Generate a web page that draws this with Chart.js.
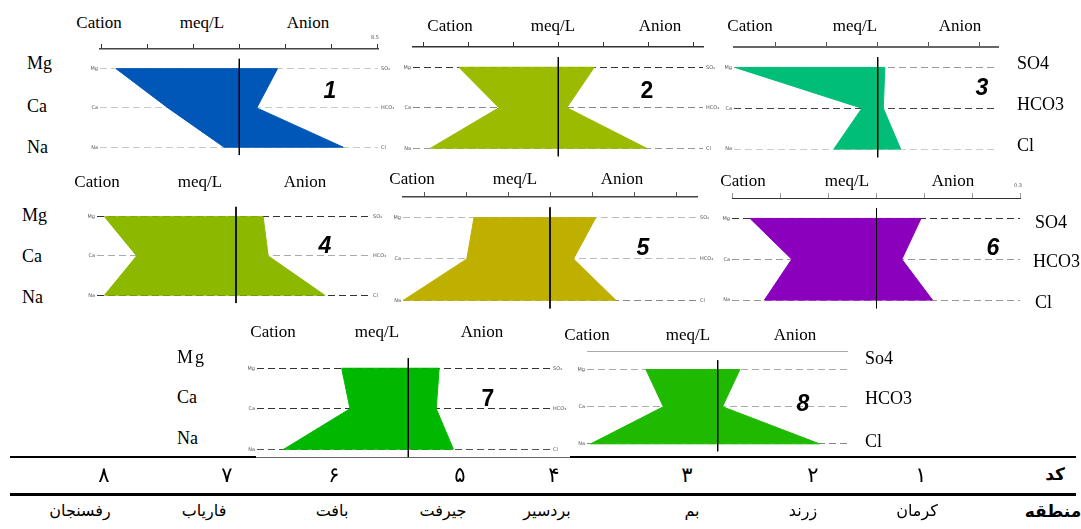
<!DOCTYPE html>
<html><head><meta charset="utf-8">
<script src="https://cdn.jsdelivr.net/npm/chart.js@4.4.1/dist/chart.umd.min.js"></script>
<style>
html,body{margin:0;padding:0;background:#fff;}
#wrap{position:relative;width:1081px;height:529px;overflow:hidden;background:#fff;}
canvas{position:absolute;}
.t{position:absolute;white-space:nowrap;transform:translate(-50%,-50%);line-height:1;color:#000;}
.tl{position:absolute;white-space:nowrap;transform:translate(0,-50%);line-height:1;color:#000;}
.serif{font-family:"Liberation Serif","Times New Roman",serif;font-size:17px;}
.side{font-family:"Liberation Serif","Times New Roman",serif;font-size:18px;}
.num{font-family:"Liberation Sans",Arial,sans-serif;font-weight:bold;font-size:23px;}
.tiny{font-family:"DejaVu Sans",sans-serif;font-size:5px;color:#555;}
.fa{font-family:"DejaVu Sans",sans-serif;font-size:15px;}
.hr{position:absolute;background:#000;}
</style></head><body><div id="wrap"></div>
<script>
// ---- data (tick units) ----
const panelIds = [1, 2, 3, 4, 5, 6, 7, 8];
const cations = ['Mg', 'Ca', 'Na'];
const anions = ['SO₄', 'HCO₃', 'Cl'];
const mg   = [2.68, 2.21, 2.80, 2.86, 1.81, 2.64, 1.36, 1.65];
const ca   = [1.55, 1.32, 0.31, 2.16, 1.98, 1.77, 1.19, 1.25];
const na   = [0.33, 2.84, 0.86, 2.86, 3.49, 2.34, 2.54, 2.92];
const so4  = [0.83, 0.80, 0.14, 0.59, 1.09, 0.93, 0.63, 0.51];
const hco3 = [0.38, 0.19, 0.11, 0.70, 0.56, 0.53, 0.57, 0.11];
const cl   = [2.26, 1.96, 0.45, 1.93, 1.57, 1.17, 0.92, 2.34];
const axisTicks = [[-3,-2,-1,0,1,2,3],[-3,-2,-1,0,1,2,3],[-2,-1,0,1,2],[],[-3,-2,-1,0,1,2,3],[-3,-2,-1,0,1,2,3],[],[]];
const codes = ['۱','۲','۳','۴','۵','۶','۷','۸'];
const regions = ['کرمان','زرند','بم','بردسیر','جیرفت','بافت','فاریاب','رفسنجان'];

// ---- layout / styles ----
const layout = [
 {left:100,right:378,center:239.3,unit:46,top:49,gap:40,axis:'ticks',tickColor:'#333',axisColor:'#444',axisWidth:1.5,color:'#0057B7',dash:['#c8c8c8','#c8c8c8','#c8c8c8'],over:false,rightTiny:true,title:[99,202,308,22],num:[330,90],italic:true},
 {left:413,right:703,center:558.3,unit:45,top:47,gap:41.2,axis:'ticks',tickColor:'#333',axisColor:'#333',axisWidth:1.5,color:'#9BBB00',dash:['#333','#888','#999'],over:true,rightTiny:true,title:[450,553,660,25],num:[647,90],italic:false},
 {left:734,right:998,center:877.7,unit:51,top:47,gap:41.2,axis:'ticks',tickColor:'#555',axisColor:'#666',axisWidth:2,color:'#00BE78',dash:['#999','#444','#ccc'],over:false,rightTiny:false,title:[750,855,960,25],num:[982,87],italic:true},
 {left:97,right:370,center:236,unit:46,top:197,gap:40,axis:'none',tickColor:'#333',axisColor:'#333',axisWidth:1,color:'#8CB800',dash:['#333','#aaa','#333'],over:false,rightTiny:true,title:[97,200,305,181],num:[325,245],italic:true},
 {left:403,right:697,center:550,unit:42,top:197,gap:42,axis:'ticks',tickColor:'#555',axisColor:'#444',axisWidth:1.5,color:'#BFB000',dash:['#bbb','#bbb','#888'],over:false,rightTiny:true,title:[412,515,622,178],num:[643,247],italic:true},
 {left:732,right:1020,center:876.5,unit:47.9,top:198,gap:41.2,axis:'ticks',tickColor:'#999',axisColor:'#333',axisWidth:1,color:'#8B00BC',dash:['#333','#999','#999'],over:true,rightTiny:false,title:[743,847,953,180],num:[993,247],italic:true},
 {left:257,right:550,center:408.3,unit:49,top:348,gap:41.2,axis:'none',tickColor:'#333',axisColor:'#333',axisWidth:1,color:'#00B800',dash:['#333','#333','#555'],over:true,rightTiny:true,title:[273,377,482,331],num:[488,398],italic:false},
 {left:587,right:847,center:717.7,unit:43.5,top:351,gap:37.5,axis:'plain',tickColor:'#aaa',axisColor:'#aaa',axisWidth:1,color:'#1FBA00',dash:['#aaa','#aaa','#888'],over:true,rightTiny:false,title:[587,688,795,334],num:[803,403],italic:true}
];

const wrap = document.getElementById('wrap');
function text(cls, x, y, s, extra) {
  const d = document.createElement('div');
  d.className = cls; d.style.left = x + 'px'; d.style.top = y + 'px';
  d.textContent = s;
  if (extra) Object.assign(d.style, extra);
  wrap.appendChild(d);
  return d;
}

function makePanel(i) {
  const L = layout[i];
  const sideW = 20, padL = 4, padR = 4, padT = 8, padB = 4;
  const areaH = Math.round(L.gap * 2.8);
  const cv = document.createElement('canvas');
  cv.width = L.right - L.left + padL + padR + 2 * sideW;
  cv.height = areaH + padT + padB;
  cv.style.left = (L.left - padL - sideW) + 'px';
  cv.style.top = (L.top - padT) + 'px';
  cv.style.width = cv.width + 'px';
  cv.style.height = cv.height + 'px';
  wrap.appendChild(cv);
  const xmin = (L.left - L.center) / L.unit;
  const xmax = (L.right - L.center) / L.unit;
  const ymax = -0.5 + areaH / L.gap;
  const poly = [
    {x: -mg[i], y: 0}, {x: -ca[i], y: 1}, {x: -na[i], y: 2},
    {x: cl[i], y: 2}, {x: hco3[i], y: 1}, {x: so4[i], y: 0}, {x: -mg[i], y: 0}
  ];
  const rowTicks = ax => { ax.ticks = [0, 1, 2].map(v => ({value: v})); };
  new Chart(cv, {
    type: 'scatter',
    data: {datasets: [
      {label: 'center', data: [{x: 0, y: -0.25}, {x: 0, y: 2.2}], showLine: true,
       borderColor: '#000', borderWidth: 1, pointRadius: 0, fill: false},
      {label: 'Stiff ' + panelIds[i], data: poly, showLine: true, fill: 'shape',
       backgroundColor: L.color, borderColor: L.color, borderWidth: 1, pointRadius: 0, tension: 0}
    ]},
    options: {
      responsive: false, animation: false, devicePixelRatio: 1, events: [],
      layout: {padding: {left: padL, right: padR, top: padT, bottom: padB}},
      plugins: {legend: {display: false}, tooltip: {enabled: false}},
      scales: {
        x: {type: 'linear', position: 'top', min: xmin, max: xmax, display: L.axis !== 'none',
            afterBuildTicks: ax => { ax.ticks = axisTicks[i].map(v => ({value: v})); },
            afterFit: ax => { ax.height = 0; },
            ticks: {display: false},
            grid: {drawOnChartArea: false, drawTicks: L.axis === 'ticks', tickLength: 5, color: L.tickColor, lineWidth: 1},
            border: {display: L.axis !== 'none', color: L.axisColor, width: L.axisWidth}},
        y: {type: 'linear', position: 'left', reverse: true, min: -0.5, max: ymax,
            afterBuildTicks: rowTicks, afterFit: ax => { ax.width = sideW; },
            ticks: {padding: 2, autoSkip: false, font: {size: 5, family: 'DejaVu Sans'}, color: '#555', callback: v => cations[v]},
            grid: {drawTicks: false, color: c => L.dash[c.index] || '#999', lineWidth: 1},
            border: {display: false, dash: [7, 4]}, z: L.over ? 1 : 0},
        y2: {type: 'linear', position: 'right', reverse: true, min: -0.5, max: ymax,
            afterBuildTicks: rowTicks, afterFit: ax => { ax.width = sideW; },
            ticks: {display: L.rightTiny, padding: 3, autoSkip: false, font: {size: 5, family: 'DejaVu Sans'}, color: '#555', callback: v => anions[v]},
            grid: {display: false, drawTicks: false}, border: {display: false}}
      }
    }
  });
  // titles
  const t = L.title;
  text('t serif', t[0], t[3], 'Cation');
  text('t serif', t[1], t[3], 'meq/L');
  text('t serif', t[2], t[3], 'Anion');
  text('t num', L.num[0], L.num[1], String(panelIds[i]), {fontStyle: L.italic ? 'italic' : 'normal'});
}

for (let i = 0; i < 8; i++) makePanel(i);

// side labels
[['Mg',63],['Ca',106],['Na',147]].forEach(a => text('tl side', 27, a[1], a[0]));
[['Mg',215],['Ca',256],['Na',297]].forEach(a => text('tl side', 22, a[1], a[0]));
[['Mg',357],['Ca',397],['Na',438]].forEach(a => text('tl side', 177, a[1], a[0], a[0]==='Mg'?{letterSpacing:'2px'}:null));
[['SO4',62.5],['HCO3',103.5],['Cl',145]].forEach(a => text('tl side', 1017, a[1], a[0]));
[['SO4',222,1035],['HCO3',261,1033],['Cl',302,1035]].forEach(a => text('tl side', a[2], a[1], a[0]));
[['So4',358],['HCO3',398],['Cl',441]].forEach(a => text('tl side', 865, a[1], a[0]));
text('t tiny', 375, 37, '8.5');
text('t tiny', 1018, 185, '0.3');

// table
function hr(x1, x2, y, h, col) {
  const d = document.createElement('div');
  d.className = 'hr';
  Object.assign(d.style, {left: x1 + 'px', top: y + 'px', width: (x2 - x1) + 'px', height: h + 'px', background: col || '#000'});
  wrap.appendChild(d);
}
hr(10, 256, 455.5, 2.5);
hr(256, 570, 456.5, 1, '#666');
hr(570, 1076, 455.5, 2.5);
hr(10, 1076, 493, 2.5);
const codeX = [921, 813, 687, 554, 460, 334, 227, 104];
const nameX = [917, 803, 692, 547, 443, 332, 204, 80];
text('t fa', 1055, 474, 'کد', {fontWeight: 'bold', fontSize: '17px'});
text('t fa', 1053, 511, 'منطقه', {fontWeight: 'bold', fontSize: '17px'});
codes.forEach((c, k) => text('t fa', codeX[k], 475, c, {fontSize: '21px'}));
regions.forEach((r, k) => text('t fa', nameX[k], 511, r, {fontSize: '16px'}));
</script></body></html>
